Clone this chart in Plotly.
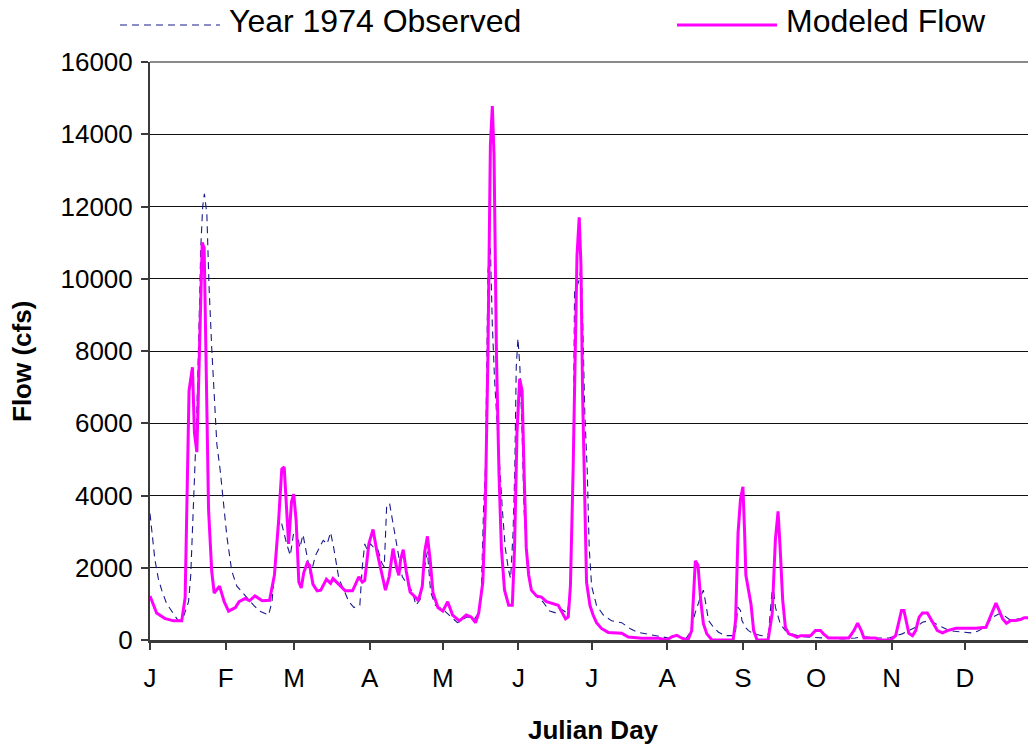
import plotly.graph_objects as go

# ---- data ----
month_days = [1, 32, 60, 91, 121, 152, 182, 213, 244, 274, 305, 335]
month_labels = ["J", "F", "M", "A", "M", "J", "J", "A", "S", "O", "N", "D"]
y_ticks = [0, 2000, 4000, 6000, 8000, 10000, 12000, 14000, 16000]
y_tick_labels = ["0", "2000", "4000", "6000", "8000", "10000", "12000", "14000", "16000"]

obs_day = [1, 2, 3, 4.4, 5.8, 7.8, 10.6, 12.6, 14.7, 16.8, 17.7, 18.8, 20, 21, 21.8, 22.6, 23.3, 24.3, 25.2, 26.3,
           27.3, 28.4, 29.8, 31, 32.5, 34.5, 36.6, 38.7, 40.7, 43.5, 46, 49.6, 51, 52.4, 53.7, 54.7, 55.8, 57, 58.5,
           59.9, 61, 62.4, 63.7, 65.4, 66.8, 68.8, 71, 72, 73.6, 75, 76.3, 78.4, 80.5, 82.5, 84.6, 87, 88, 89, 90,
           91.4, 92.8, 94.4, 96, 97, 98, 99.2, 100, 101.7, 103, 104.4, 106.5, 108.6, 110, 111.7, 113, 114.7, 116,
           118, 121, 123.7, 127, 131, 134, 135.7, 136.8, 137.7, 138.5, 139.5, 140.5, 141.3, 142.2, 143.3, 144.3,
           145.4, 146.6, 148, 148.8, 149.8, 150.5, 151.1, 151.8, 152.6, 153.5, 154.3, 155.2, 156.2, 157.3, 160,
           162, 164.8, 167.6, 169.6, 172, 173.3, 174.4, 175, 176, 177, 177.8, 178.3, 179.2, 180.2, 181, 182, 184,
           186.8, 190.2, 194.3, 197.7, 201, 205, 210.7, 214, 217, 220.3, 222.4, 224.4, 226.5, 227.8, 228.8, 229.9,
           232, 234, 236.7, 240.8, 241.9, 243, 243.6, 245, 246.3, 248.4, 251.8, 254.5, 255.6, 256.3, 257.3, 258,
           259.3, 261.4, 264, 268, 273.7, 279, 284.7, 290, 292.9, 298.4, 303.9, 306.6, 309.3, 312, 314.8, 317.6,
           320.3, 323, 325.8, 328.5, 332.6, 338, 340.8, 343.6, 346.3, 349, 351, 353.8, 357.3, 361.4]
obs_flow = [3500, 2870, 2230, 1700, 1380, 1010, 745, 530, 640, 1060, 1800, 3930, 5850, 8400, 10850, 12000, 12350,
            11800, 9780, 8080, 6600, 5420, 4680, 3830, 2870, 1910, 1490, 1330, 1170, 960, 800, 690, 1060, 2130, 3190,
            3300, 2980, 2660, 2340, 2980, 3080, 2550, 2920, 2340, 1800, 2340, 2660, 2760, 2660, 2980, 2550, 1700,
            1380, 1060, 900, 960, 2020, 2660, 2500, 2660, 2550, 2500, 2130, 2020, 3720, 3780, 3460, 2820, 2230, 1750,
            1540, 1330, 960, 1120, 1800, 2450, 1330, 960, 850, 690, 480, 640, 585, 745, 1380, 3620, 4790, 10200,
            10850, 8720, 7230, 5950, 4680, 3620, 2550, 1910, 1700, 2980, 4680, 7550, 8350, 7550, 5740, 3620, 2550,
            1700, 1380, 1170, 1060, 800, 745, 850, 745, 1280, 4680, 9680, 9780, 10000, 10420, 8720, 6270, 4680,
            2550, 1490, 960, 690, 530, 480, 320, 210, 160, 106, 50, 130, 0, 210, 745, 1170, 1380, 1000, 540, 350,
            215, 120, 120, 910, 820, 540, 350, 260, 170, 120, 170, 1100, 1560, 910, 730, 450, 260, 170, 93, 75, 56,
            28, 56, 93, 56, 56, 120, 170, 260, 350, 490, 540, 450, 350, 260, 230, 195, 260, 400, 630, 725, 680, 540,
            590, 630]

mod_day = [1, 3.7, 7, 10.6, 14, 15.4, 17, 18.4, 19.2, 20.2, 21.3, 22.4, 23.2, 24, 25, 26.3, 27.3, 29.5, 31.4,
           33.2, 36, 37.5, 40, 41.8, 44, 47, 50, 52, 53.7, 55, 56, 57, 57.8, 59, 59.9, 60.9, 62, 63, 64, 65.4, 66.4,
           67.8, 69.5, 71, 73.3, 75, 76, 78.4, 81, 84, 86.6, 88, 89, 90.7, 92.4, 94, 96, 97.5, 99, 100.6, 102, 103,
           103.7, 104.8, 106, 107.6, 110, 111, 112.6, 113.6, 114.7, 115.8, 117, 119, 121, 123, 125, 127.8, 130.6,
           132.6, 134.4, 135.7, 137.4, 138.4, 139.5, 140.5, 141.3, 142, 143, 144, 145, 146.3, 148, 149.5, 150.4,
           151.4, 152.5, 153.5, 154.3, 155.2, 156.2, 157.3, 159.4, 161.4, 163.5, 165.5, 168.3, 169.6, 171.3, 172.4,
           173.3, 174.4, 175.4, 176, 176.9, 177.6, 178.3, 179.2, 179.9, 181.3, 182.6, 184, 186, 188.8, 194.3, 197,
           202.5, 209.4, 212.8, 214.8, 216.9, 219, 221.5, 223, 224.5, 225.6, 226.7, 227.8, 229.2, 231.3, 240, 241,
           242, 243, 244, 244.7, 245.2, 246.3, 247.3, 248.4, 249.8, 254.3, 256, 257.3, 258.4, 259.3, 260.3, 261.4,
           262.8, 264.8, 266.2, 267.6, 271.7, 273.7, 275.8, 277, 279, 287.4, 289.5, 291, 292.5, 293.6, 298.4, 299.8,
           304.5, 306.6, 308, 309, 310, 311, 312, 313.5, 314.8, 316.2, 317.6, 319.6, 321, 322.4, 323.7, 325.8, 327.8,
           331.3, 335.4, 339.5, 343.6, 345.6, 347.7, 349, 350.4, 352, 353.8, 355.9, 358, 359.3, 362]
mod_flow = [1220, 745, 600, 530, 530, 1170, 6900, 7550, 5740, 5200, 8080, 11000, 10850, 7870, 3600, 1900, 1300,
            1490, 1060, 800, 900, 1060, 1150, 1085, 1220, 1085, 1100, 1800, 3300, 4730, 4790, 3600, 2660, 3830,
            4040, 3300, 1600, 1440, 1860, 2130, 2070, 1540, 1360, 1380, 1680, 1570, 1700, 1540, 1360, 1360, 1750,
            1600, 1650, 2660, 3060, 2450, 1800, 1380, 1750, 2530, 2020, 1790, 2230, 2500, 1910, 1330, 1170, 1085,
            1490, 2450, 2870, 2230, 1300, 900, 800, 1060, 690, 530, 690, 640, 480, 745, 1600, 3600, 7870, 13700,
            14780, 13400, 7870, 4680, 2550, 1380, 960, 960, 2550, 5740, 7230, 6900, 4680, 2550, 1800, 1380, 1220,
            1190, 1060, 1010, 960, 800, 585, 640, 1490, 4680, 8930, 10640, 11700, 10420, 6800, 3620, 1600, 960, 690,
            480, 320, 210, 190, 85, 50, 50, 0, 85, 130, 50, 0, 260, 2190, 2070, 1100, 450, 170, 0, 0, 540, 2960,
            3890, 4240, 2960, 1800, 1380, 1000, 260, 0, 0, 730, 2770, 3560, 2490, 1100, 350, 170, 120, 75, 120, 120,
            260, 260, 170, 56, 56, 260, 465, 260, 56, 56, 0, 0, 120, 540, 820, 820, 450, 186, 120, 260, 630, 750,
            750, 590, 400, 260, 195, 260, 325, 325, 325, 350, 680, 1020, 820, 590, 465, 540, 540, 570, 615, 615]

obs_name = "Year 1974 Observed"
mod_name = "Modeled Flow"

# ---- layout constants ----
W, H = 1028, 749
L, R, T, B = 150, 0, 62, 109
PW, PH = W - L - R, H - T - B
FONT = "Liberation Sans, Arial, sans-serif"
OBS_COLOR = "#1a1a8c"
MOD_COLOR = "#ff00ff"


def px_x(px):
    return (px - L) / PW


def px_y(py):
    return (H - B - py) / PH


fig = go.Figure()
fig.add_trace(go.Scatter(x=obs_day, y=obs_flow, mode="lines", name=obs_name, showlegend=False,
                         line=dict(color=OBS_COLOR, width=1.1, dash="7px,5px")))
fig.add_trace(go.Scatter(x=mod_day, y=mod_flow, mode="lines", name=mod_name, showlegend=False,
                         line=dict(color=MOD_COLOR, width=3)))

fig.update_layout(
    width=W, height=H,
    margin=dict(l=L, r=R, t=T, b=B, pad=0),
    paper_bgcolor="white", plot_bgcolor="white",
    font=dict(family=FONT, color="black"),
    showlegend=False,
    xaxis=dict(range=[1, 1 + PW / 2.44], tickmode="array", tickvals=month_days, ticktext=month_labels,
               showgrid=False, zeroline=False, showline=True, linecolor="#3a3a3a", linewidth=2.5,
               ticks="outside", ticklen=7, tickwidth=1.5, tickcolor="#3a3a3a",
               tickfont=dict(size=26, family=FONT, color="black"), ticklabelstandoff=6),
    yaxis=dict(range=[0, 16000], tickmode="array", tickvals=y_ticks, ticktext=y_tick_labels,
               showgrid=True, gridcolor="#111111",
               gridwidth=1, zeroline=False, showline=True, linecolor="#3a3a3a", linewidth=2,
               ticks="outside", ticklen=7, tickwidth=1.5, tickcolor="#3a3a3a",
               tickfont=dict(size=26, family=FONT, color="black"), ticklabelstandoff=3),
)

# top border line of plot area
fig.add_shape(type="line", xref="paper", yref="paper", x0=0, x1=1, y0=1, y1=1,
              line=dict(color="#8a8a8a", width=2))

# manual legend
leg_y = px_y(25)
fig.add_shape(type="line", xref="paper", yref="paper", x0=px_x(120), x1=px_x(220), y0=leg_y, y1=leg_y,
              line=dict(color=OBS_COLOR, width=1.1, dash="7px,5px"))
fig.add_shape(type="line", xref="paper", yref="paper", x0=px_x(677), x1=px_x(777), y0=leg_y, y1=leg_y,
              line=dict(color=MOD_COLOR, width=3))
fig.add_annotation(text=obs_name, xref="paper", yref="paper", x=px_x(227), y=px_y(21), xanchor="left",
                   yanchor="middle", showarrow=False, font=dict(size=32, family=FONT, color="black"))
fig.add_annotation(text=mod_name, xref="paper", yref="paper", x=px_x(784), y=px_y(21), xanchor="left",
                   yanchor="middle", showarrow=False, font=dict(size=32, family=FONT, color="black"))

# axis titles
fig.add_annotation(text="<b>Julian Day</b>", xref="paper", yref="paper", x=px_x(593), y=px_y(730),
                   xanchor="center", yanchor="middle", showarrow=False,
                   font=dict(size=26, family=FONT, color="black"))
fig.add_annotation(text="<b>Flow (cfs)</b>", xref="paper", yref="paper", x=px_x(22), y=px_y(362),
                   xanchor="center", yanchor="middle", textangle=-90, showarrow=False,
                   font=dict(size=26, family=FONT, color="black"))

fig.write_html("out.html")
